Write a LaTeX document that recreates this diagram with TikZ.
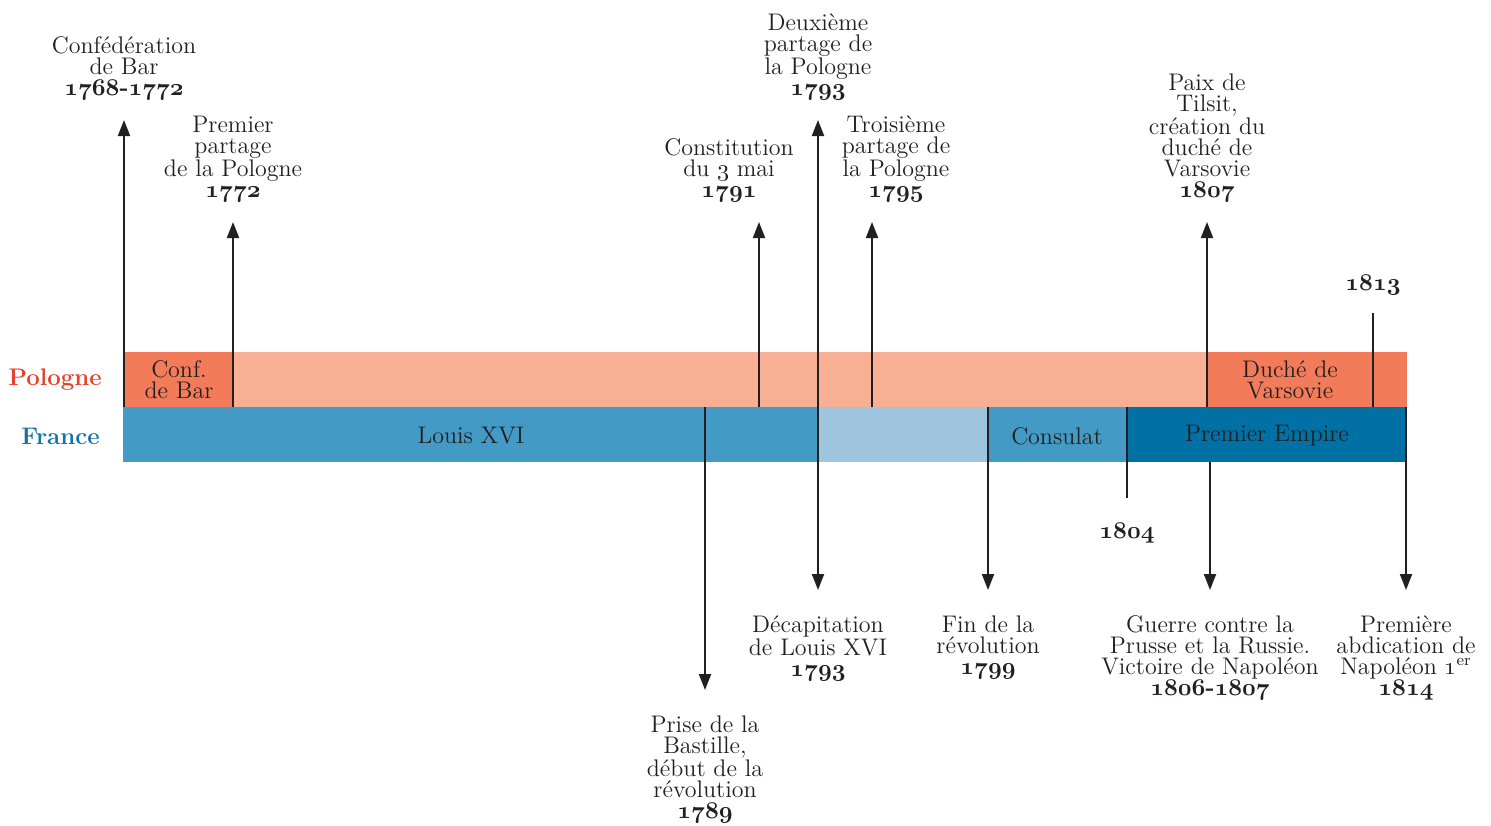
\documentclass[tikz,border=0pt]{standalone}
\usepackage{xcolor}
\usepackage{tikz}
\usetikzlibrary{positioning, arrows.meta}
\definecolor{ink}{RGB}{35, 31, 32}
\definecolor{polred}{RGB}{232, 65, 42}
\definecolor{polpale}{RGB}{248, 176, 148}
\definecolor{poldark}{RGB}{242, 124, 90}
\definecolor{frblue}{RGB}{20, 115, 165}
\definecolor{frmid}{RGB}{66, 154, 197}
\definecolor{frpale}{RGB}{158, 196, 222}
\definecolor{frdark}{RGB}{0, 112, 165}
\newcommand{\evtfont}{\fontsize{12}{10.5}\selectfont}
\newcommand{\yr}[1]{{\usefont{OML}{cmm}{b}{it}#1}}

\begin{document}
\begin{tikzpicture}[x=0.5pt, y=-0.5pt,
        evup/.style={align=center, font=\evtfont, text=ink, inner xsep=0pt, inner ysep=9.5pt, anchor=south},
        evdown/.style={align=center, font=\evtfont, text=ink, inner xsep=0pt, inner ysep=12.5pt, anchor=north},
        bartext/.style={align=center, font=\evtfont, text=ink, inner sep=0pt},
        rowlabel/.style={font=\evtfont\bfseries, inner sep=0pt, anchor=east},
        evline/.style={draw=ink, line width=1pt},
        evarrow/.style={evline, -{Triangle[length=8pt, width=6pt]}},
        evboth/.style={evline, {Triangle[length=8pt, width=6pt]}-{Triangle[length=8pt, width=6pt]}}
    ]
        \useasboundingbox (0,0) rectangle (1491,825);

        % bars
        \fill[polpale] (124,352) rectangle (1407,407);
        \fill[poldark] (124,352) rectangle (233,407);
        \fill[poldark] (1207,352) rectangle (1407,407);
        \fill[frmid] (123,407) rectangle (1127,462);
        \fill[frpale] (819,407) rectangle (988,462);
        \fill[frdark] (1127,407) rectangle (1407,462);

        \node (pologne) [rowlabel, text=polred] at (102,380) {Pologne};
        \node (france) [rowlabel, text=frblue] at (100,436) {France};

        \node (confbar) [bartext] at (179,380) {Conf.\\de Bar};
        \node (duche) [bartext] at (1290,380) {Duché de\\Varsovie};
        \node (louis) [bartext] at (471,436) {Louis XVI};
        \node (consulat) [bartext] at (1057,436) {Consulat};
        \node (empire) [bartext] at (1267,436) {Premier Empire};

        % points on the bars
        \coordinate (b1768) at (124,407);
        \coordinate (b1772) at (233,407);
        \coordinate (b1789) at (705,407);
        \coordinate (b1791) at (759,407);
        \coordinate (b1795) at (872,407);
        \coordinate (b1799) at (988,407);
        \coordinate (b1804) at (1127,407);
        \coordinate (t1804) at (1127,498);
        \coordinate (b1806) at (1210,462);
        \coordinate (b1807) at (1207,407);
        \coordinate (b1813) at (1373,407);
        \coordinate (t1813) at (1373,313);
        \coordinate (b1814) at (1406,407);

        % above the bars
        \node (conf) [evup] at (124,120) {Confédération\\de Bar\\\yr{1768}\textbf{-}\yr{1772}};
        \node (part1) [evup] at (233,222) {Premier\\partage\\de la Pologne\\\yr{1772}};
        \node (constit) [evup] at (729,222) {Constitution\\du \oldstylenums{3} mai\\\yr{1791}};
        \node (part2) [evup] at (818,120) {Deuxième\\partage de\\la Pologne\\\yr{1793}};
        \node (part3) [evup] at (896,222) {Troisième\\partage de\\la Pologne\\\yr{1795}};
        \node (tilsit) [evup] at (1207,222) {Paix de\\Tilsit,\\création du\\duché de\\Varsovie\\\yr{1807}};
        \node (y1813) [bartext] at (1373,285) {\yr{1813}};

        % below the bars
        \node (bastille) [evdown] at (705,690) {Prise de la\\Bastille,\\début de la\\révolution\\\yr{1789}};
        \node (decap) [evdown] at (818,590) {Décapitation\\de Louis XVI\\\yr{1793}};
        \node (finrev) [evdown] at (988,590) {Fin de la\\révolution\\\yr{1799}};
        \node (y1804) [bartext] at (1127,533) {\yr{1804}};
        \node (guerre) [evdown] at (1210,590) {Guerre contre la\\Prusse et la Russie.\\Victoire de Napoléon\\\yr{1806}\textbf{-}\yr{1807}};
        \node (abdic) [evdown] at (1406,590) {Première\\abdication de\\Napoléon \oldstylenums{1}\smash{\textsuperscript{er}}\\\yr{1814}};

        \draw[evarrow] (b1768) -- (conf);
        \draw[evarrow] (b1772) -- (part1);
        \draw[evarrow] (b1791) -- (b1791 |- constit.south);
        \draw[evboth] (decap) -- (part2);
        \draw[evarrow] (b1795) -- (b1795 |- part3.south);
        \draw[evarrow] (b1807) -- (tilsit);
        \draw[evline] (b1813) -- (t1813);

        \draw[evarrow] (b1789) -- (bastille);
        \draw[evarrow] (b1799) -- (finrev);
        \draw[evline] (b1804) -- (t1804);
        \draw[evarrow] (b1806) -- (guerre);
        \draw[evarrow] (b1814) -- (abdic);
    \end{tikzpicture}
\end{document}
